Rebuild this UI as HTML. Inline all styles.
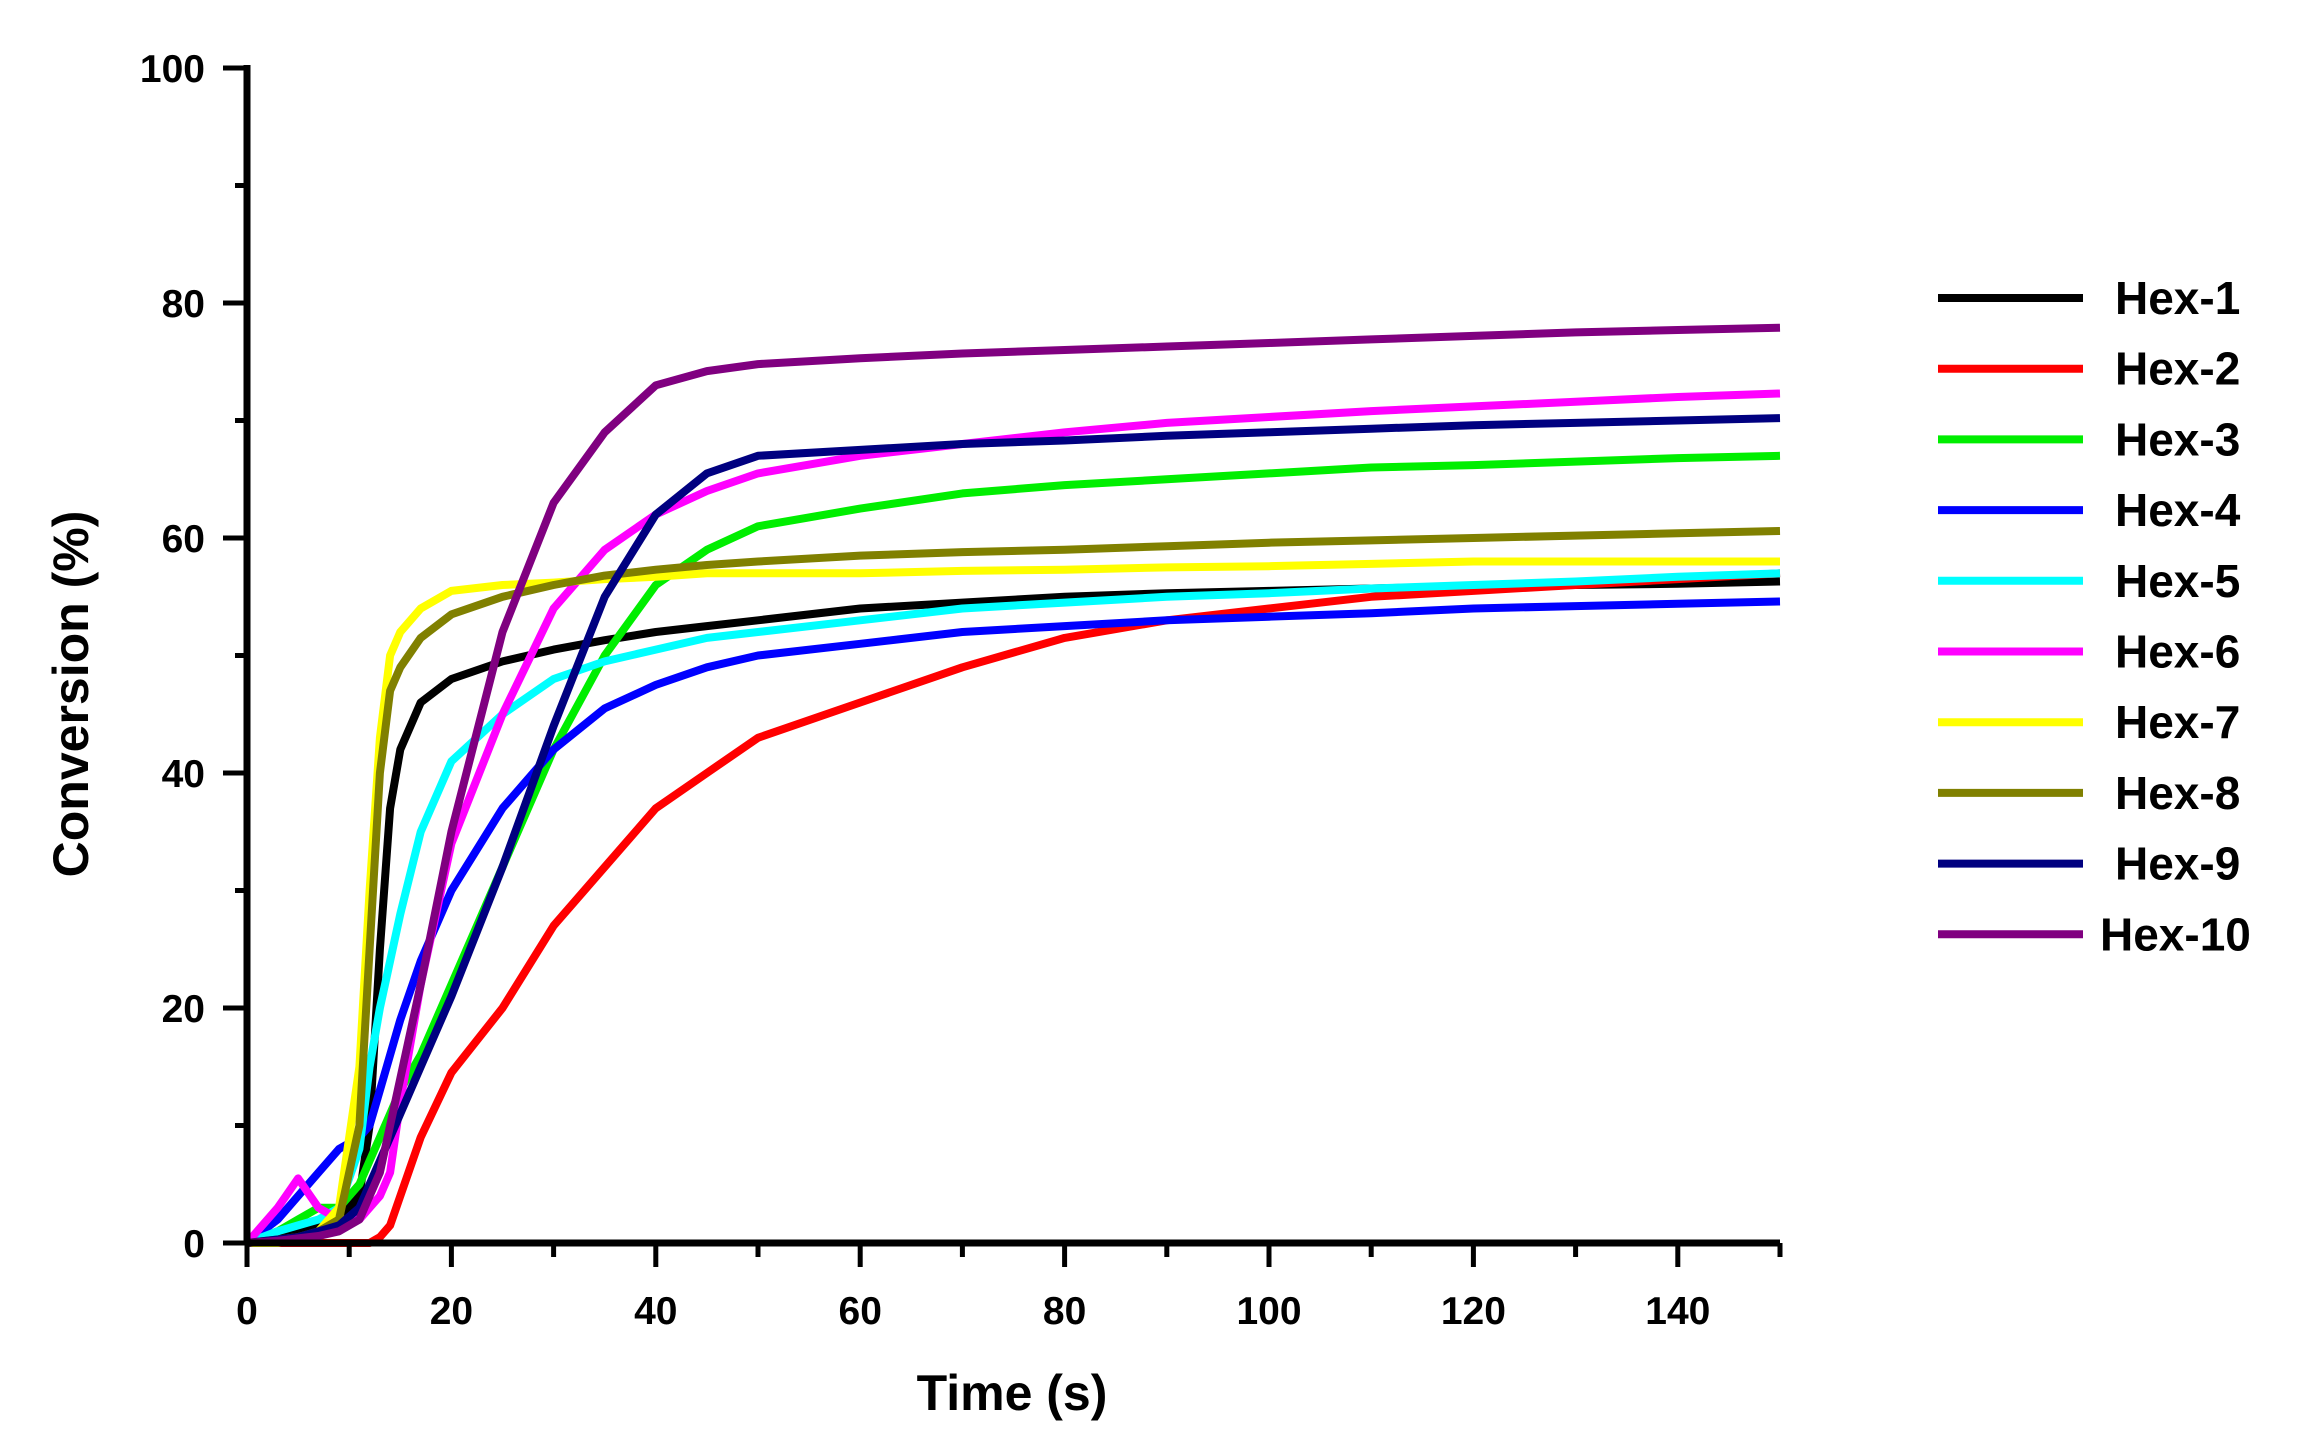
<!DOCTYPE html>
<html><head><meta charset="utf-8"><style>
html,body{margin:0;padding:0;background:#fff;}
svg{display:block;font-family:"Liberation Sans",Arial,sans-serif;font-weight:bold;}
</style></head><body>
<svg id="chart" width="2304" height="1445" viewBox="0 0 2304 1445">
<g id="plot"></g>
<g id="axes"></g>
<g id="legend"></g>
<text x="1012" y="1410" font-size="50" text-anchor="middle">Time (s)</text>
<text transform="translate(88,694) rotate(-90)" font-size="50" text-anchor="middle">Conversion (%)</text>
</svg>
<script>
const times = [0,3,5,7,9,11,12,13,14,15,17,20,25,30,35,40,45,50,60,70,80,90,100,110,120,130,140,150];
const seriesNames = ["Hex-1","Hex-2","Hex-3","Hex-4","Hex-5","Hex-6","Hex-7","Hex-8","Hex-9","Hex-10"];
const seriesColors = ["#000000","#ff0000","#00ee00","#0000ff","#00ffff","#ff00ff","#ffff00","#808000","#000080","#800080"];
const hex1 = [0,0.5,1,1.5,2,4,10,25,37,42,46,48,49.5,50.5,51.3,52,52.5,53,54,54.5,55,55.3,55.5,55.7,55.9,56,56.1,56.3];
const hex2 = [0,0,0,0,0,0,0,0.5,1.5,4,9,14.5,20,27,32,37,40,43,46,49,51.5,53,54,55,55.5,56,56.5,57];
const hex3 = [0,1,2,3,3,5,7,9,11,13,16,22,32,42,50,56,59,61,62.5,63.8,64.5,65,65.5,66,66.2,66.5,66.8,67];
const hex4 = [0,2,4,6,8,9,10,13,16,19,24,30,37,42,45.5,47.5,49,50,51,52,52.5,53,53.3,53.6,54,54.2,54.4,54.6];
const hex5 = [0,1,1.5,2,3,8,15,20,24,28,35,41,45,48,49.5,50.5,51.5,52,53,54,54.5,55,55.3,55.7,56,56.3,56.7,57];
const hex6 = [0,3,5.5,3,2,2,3,4,6,12,22,34,45,54,59,62,64,65.5,67,68,69,69.8,70.3,70.8,71.2,71.6,72,72.3];
const hex7 = [0,0,0.3,1,3,15,30,43,50,52,54,55.5,56,56.2,56.5,56.7,57,57,57,57.2,57.3,57.5,57.6,57.8,58,58,58,58];
const hex8 = [0,0.3,0.5,1,2,10,25,40,47,49,51.5,53.5,55,56,56.8,57.3,57.7,58,58.5,58.8,59,59.3,59.6,59.8,60,60.2,60.4,60.6];
const hex9 = [0,0.3,0.5,1,1.5,3,5,7,9,11,15,21,32,44,55,62,65.5,67,67.5,68,68.3,68.7,69,69.3,69.6,69.8,70,70.2];
const hex10 = [0,0.2,0.4,0.6,1,2,4,6,10,14,22,35,52,63,69,73,74.2,74.8,75.3,75.7,76,76.3,76.6,76.9,77.2,77.5,77.7,77.9];
const allSeries = [hex1,hex2,hex3,hex4,hex5,hex6,hex7,hex8,hex9,hex10];
const xTicks = [0,20,40,60,80,100,120,140];
const yTicks = [0,20,40,60,80,100];

const X0=247, X1=1780, XMAX=150, Y0=1243, Y1=68, YMAX=100;
function sx(v){return X0+(X1-X0)*v/XMAX;}
function sy(v){return Y0-(Y0-Y1)*v/YMAX;}
const NS="http://www.w3.org/2000/svg";
function mk(tag,attrs,parent){const e=document.createElementNS(NS,tag);for(const k in attrs)e.setAttribute(k,attrs[k]);parent.appendChild(e);return e;}

const plot=document.getElementById('plot');
allSeries.forEach((s,i)=>{
  const d=s.map((v,j)=>(j?'L':'M')+sx(times[j]).toFixed(1)+','+sy(v).toFixed(1)).join(' ');
  const p=mk('path',{d:d,fill:'none',stroke:seriesColors[i],'stroke-width':8,'stroke-linejoin':'round'},plot);
  
  
});

const axes=document.getElementById('axes');
const xa=mk('line',{x1:X0,y1:Y0,x2:X1,y2:Y0,stroke:'#000','stroke-width':7},axes);


const ya=mk('line',{x1:X0,y1:Y0,x2:X0,y2:Y1-3,stroke:'#000','stroke-width':7},axes);


for(let v=0;v<=XMAX;v+=10){
  const major=v%20===0;
  const t=mk('line',{x1:sx(v),y1:Y0,x2:sx(v),y2:Y0+(major?24:14),stroke:'#000','stroke-width':5},axes);
  
  
}
xTicks.forEach(v=>{
  const t=mk('text',{x:sx(v),y:1324,'font-size':39,'text-anchor':'middle'},axes);
  t.textContent=v;
  
  
});
for(let v=0;v<=YMAX;v+=10){
  const major=v%20===0;
  const t=mk('line',{x1:X0-(major?24:12),y1:sy(v),x2:X0,y2:sy(v),stroke:'#000','stroke-width':5},axes);
  
  
}
yTicks.forEach(v=>{
  const t=mk('text',{x:205,y:sy(v)+14,'font-size':39,'text-anchor':'end'},axes);
  t.textContent=v;
  
  
});

const legend=document.getElementById('legend');
seriesNames.forEach((n,i)=>{
  const y=298+70.7*i;
  const g=mk('g',{},legend);
  
  
  mk('line',{x1:1938,y1:y,x2:2083,y2:y,stroke:seriesColors[i],'stroke-width':8},g);
  const t=mk('text',{x:(i===9?2100:2115),y:y+16,'font-size':46},g);
  t.textContent=n;
});
</script>
</body></html>
